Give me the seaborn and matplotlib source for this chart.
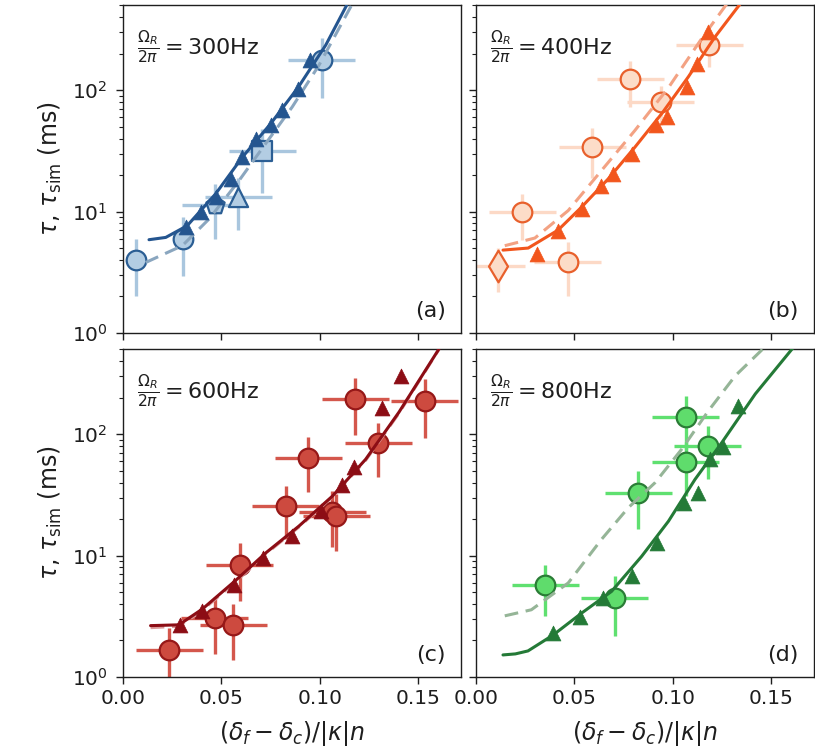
import numpy as np
import pandas as pd
import matplotlib
matplotlib.use("Agg")
import matplotlib.pyplot as plt
import seaborn as sns

sns.set_style("ticks")
plt.rcParams['font.family'] = ['DejaVu Sans']
plt.rcParams['mathtext.fontset'] = 'dejavusans'
for k in ['text.color', 'axes.labelcolor', 'xtick.color', 'ytick.color', 'axes.edgecolor']:
    plt.rcParams[k] = '#1e1e1e'

# ---------------- data ----------------
panel_labels = ["(a)", "(b)", "(c)", "(d)"]
freq_labels = ["300Hz", "400Hz", "600Hz", "800Hz"]

# panel (a) 300 Hz
a_exp_x = [0.0068, 0.0306, 0.0465, 0.0584, 0.0707, 0.1009]
a_exp_y = [4.0, 5.95, 11.4, 13.1, 31.3, 177]
a_exp_xerr = [0.0, 0.005, 0.0165, 0.017, 0.017, 0.017]
a_exp_yerr = [2.0, 3.0, 5.5, 6.0, 17, 90]
a_exp_marker = ['o', 'o', 'p', '^', 's', 'o']
a_sim_x = [0.0321, 0.0394, 0.0470, 0.0547, 0.0606, 0.0674, 0.0750, 0.0809, 0.0890, 0.0948]
a_sim_y = [7.4, 9.9, 13.1, 18.6, 28.1, 39.9, 51.4, 68.4, 103, 179]
a_fit_x = [0.0132, 0.0217, 0.0326, 0.0470, 0.0606, 0.0750, 0.0890, 0.1029, 0.1139]
a_fit_y = [5.87, 6.13, 7.66, 14.0, 28.1, 53.1, 106, 235, 514]
a_dash_x = [0.0115, 0.0301, 0.0437, 0.0589, 0.0724, 0.0859, 0.0995, 0.1164]
a_dash_y = [3.81, 5.24, 8.7, 18.0, 36.3, 72.8, 161, 514]

# panel (b) 400 Hz
b_exp_x = [0.0112, 0.0234, 0.0465, 0.0590, 0.0782, 0.0939, 0.1185]
b_exp_y = [3.58, 9.87, 3.81, 34.0, 123, 80, 235]
b_exp_xerr = [0.0137, 0.017, 0.017, 0.017, 0.017, 0.017, 0.017]
b_exp_yerr = [1.4, 4.0, 1.8, 15, 50, 28, 80]
b_exp_marker = ['d', 'o', 'o', 'o', 'o', 'o', 'o']
b_sim_x = [0.0312, 0.0417, 0.0536, 0.0637, 0.0697, 0.0790, 0.0912, 0.0968, 0.1070, 0.1121, 0.1177]
b_sim_y = [4.47, 6.97, 10.5, 16.4, 20.5, 30.0, 51.4, 60.1, 106, 166, 303]
b_fit_x = [0.0137, 0.0265, 0.0417, 0.0536, 0.0671, 0.0807, 0.0943, 0.1078, 0.1214, 0.1341]
b_fit_y = [4.82, 5.01, 7.05, 10.9, 18.6, 34.0, 64.2, 129, 276, 514]
b_dash_x = [0.0146, 0.0299, 0.0468, 0.0637, 0.0807, 0.0977, 0.1146, 0.1273]
b_dash_y = [5.24, 6.06, 10.2, 21.8, 46.7, 105, 267, 514]

# panel (c) 600 Hz
c_exp_x = [0.0234, 0.0467, 0.0560, 0.0592, 0.0826, 0.0941, 0.1063, 0.1083, 0.1178, 0.1296, 0.1533]
c_exp_y = [1.67, 3.06, 2.69, 8.43, 25.6, 64.2, 22.8, 21.4, 195, 84.3, 188]
c_exp_xerr = [0.017] * 11
c_exp_yerr = [0.85, 1.5, 1.3, 4.2, 12, 31, 11, 10.5, 96, 40, 95]
c_exp_marker = ['o'] * 11
c_sim_x = [0.0288, 0.0403, 0.0563, 0.0711, 0.0856, 0.1003, 0.1110, 0.1173, 0.1316, 0.1410]
c_sim_y = [2.69, 3.53, 5.68, 9.57, 14.6, 23.2, 38.1, 54.1, 166, 303]
c_fit_x = [0.0140, 0.0284, 0.0403, 0.0572, 0.0724, 0.0893, 0.1063, 0.1232, 0.1401, 0.1604]
c_fit_y = [2.65, 2.69, 3.63, 6.25, 10.5, 17.5, 30.9, 62.2, 152, 504]
c_dash_x = [0.0140, 0.0284, 0.0403, 0.0572, 0.0724, 0.0893, 0.1063, 0.1232, 0.1401, 0.1604]
c_dash_y = [2.55, 2.62, 3.55, 6.1, 10.3, 17.2, 30.5, 61, 149, 500]

# panel (d) 800 Hz
d_exp_x = [0.0352, 0.0705, 0.0824, 0.1065, 0.1065, 0.1177]
d_exp_y = [5.76, 4.47, 33.0, 140, 59.0, 80]
d_exp_xerr = [0.017] * 6
d_exp_yerr = [2.6, 2.3, 16.5, 66, 28, 37]
d_exp_marker = ['o'] * 6
d_sim_x = [0.0392, 0.0527, 0.0646, 0.0790, 0.0917, 0.1058, 0.1126, 0.1189, 0.1256, 0.1329]
d_sim_y = [2.30, 3.15, 4.47, 6.74, 12.7, 27.3, 33.0, 62.2, 79.1, 171]
d_fit_x = [0.0137, 0.0200, 0.0264, 0.0392, 0.0536, 0.0688, 0.0841, 0.0977, 0.1112, 0.1248, 0.1418, 0.1612]
d_fit_y = [1.52, 1.55, 1.64, 2.22, 3.36, 5.07, 9.87, 19.2, 42.5, 85.4, 215, 521]
d_dash_x = [0.0146, 0.0281, 0.0468, 0.0637, 0.0773, 0.0909, 0.1044, 0.1180, 0.1316, 0.1460]
d_dash_y = [3.19, 3.58, 5.95, 13.6, 24.8, 39.9, 75.2, 156, 303, 511]

panels = [
    dict(ex=a_exp_x, ey=a_exp_y, exe=a_exp_xerr, eye=a_exp_yerr, em=a_exp_marker,
         sx=a_sim_x, sy=a_sim_y, fx=a_fit_x, fy=a_fit_y, dx=a_dash_x, dy=a_dash_y),
    dict(ex=b_exp_x, ey=b_exp_y, exe=b_exp_xerr, eye=b_exp_yerr, em=b_exp_marker,
         sx=b_sim_x, sy=b_sim_y, fx=b_fit_x, fy=b_fit_y, dx=b_dash_x, dy=b_dash_y),
    dict(ex=c_exp_x, ey=c_exp_y, exe=c_exp_xerr, eye=c_exp_yerr, em=c_exp_marker,
         sx=c_sim_x, sy=c_sim_y, fx=c_fit_x, fy=c_fit_y, dx=c_dash_x, dy=c_dash_y),
    dict(ex=d_exp_x, ey=d_exp_y, exe=d_exp_xerr, eye=d_exp_yerr, em=d_exp_marker,
         sx=d_sim_x, sy=d_sim_y, fx=d_fit_x, fy=d_fit_y, dx=d_dash_x, dy=d_dash_y),
]

styles = [
    dict(dark='#24558f', fill='#b3cde3', edge='#2b5e94', err='#a9c6de', dash='#8aa6bf'),
    dict(dark='#f2561d', fill='#fcdcc8', edge='#e8602c', err='#fcd9c6', dash='#f3a283'),
    dict(dark='#8c0d15', fill='#cd4a3f', edge='#961818', err='#d4574c', dash='#dc9a9a'),
    dict(dark='#247a37', fill='#5fdc6c', edge='#2a7c36', err='#5fe070', dash='#95b597'),
]

# ---------------- layout ----------------
W, H = 815, 756
fig = plt.figure(figsize=(W / 100, H / 100), dpi=100)
axw, axh = 338 / W, 328 / H
lefts = [123 / W, 476 / W]
bottoms = [(H - 333) / H, (H - 677) / H]
axes = []
for r in range(2):
    for c in range(2):
        axes.append(fig.add_axes([lefts[c], bottoms[r], axw, axh]))

sizes = {'o': 200, 'p': 190, '^': 190, 's': 200, 'd': 260}
for i, (ax, p, st) in enumerate(zip(axes, panels, styles)):
    # error bars
    ax.errorbar(p['ex'], p['ey'], xerr=p['exe'], yerr=p['eye'], fmt='none',
                ecolor=st['err'], elinewidth=2.4, capsize=0, zorder=1)
    # experiment markers
    df = pd.DataFrame({'x': p['ex'], 'y': p['ey'], 'm': p['em']})
    for m in df['m'].unique():
        sub = df[df['m'] == m]
        sns.scatterplot(data=sub, x='x', y='y', marker=m, s=sizes[m],
                        color=st['fill'], edgecolor=st['edge'], linewidth=1.6,
                        ax=ax, zorder=2, legend=False)
    # dashed curve
    sns.lineplot(x=p['dx'], y=p['dy'], ax=ax, color=st['dash'], linestyle=(0, (4.5, 2.5)),
                 linewidth=2.2, sort=False, estimator=None, zorder=3)
    # solid curve
    sns.lineplot(x=p['fx'], y=p['fy'], ax=ax, color=st['dark'], linewidth=2.2,
                 sort=False, estimator=None, zorder=4)
    # simulation triangles
    sns.scatterplot(x=p['sx'], y=p['sy'], marker='^', s=115, color=st['dark'],
                    edgecolor=st['dark'], linewidth=0.5, ax=ax, zorder=5, legend=False)

    ax.set_yscale('log')
    ax.set_ylim(1, 504)
    ax.set_xlim(0, 0.1716)
    ax.set_xticks([0.0, 0.05, 0.10, 0.15])
    for s in ax.spines.values():
        s.set_visible(True)
        s.set_linewidth(1.0)
    ax.tick_params(axis='both', which='major', labelsize=14.5, length=5, width=1)
    ax.tick_params(axis='y', which='major', pad=6)
    ax.tick_params(axis='y', which='minor', length=3, width=0.8)
    ax.set_xlabel('')
    ax.set_ylabel('')
    if i in (0, 1):
        ax.tick_params(axis='x', labelbottom=False)
    else:
        ax.set_xticklabels(['0.00', '0.05', '0.10', '0.15'])
        ax.set_xlabel(r'$(\delta_f-\delta_c)/|\kappa|n$', fontsize=17, labelpad=8)
    if i in (1, 3):
        ax.tick_params(axis='y', which='both', labelleft=False)
    else:
        ax.set_ylabel(r'$\tau$, $\tau_{\rm sim}$ (ms)', fontsize=17, labelpad=6)

    ax.text(0.04, 0.87, r'$\frac{\Omega_R}{2\pi}=$' + freq_labels[i], transform=ax.transAxes,
            fontsize=16, ha='left', va='center')
    ax.text(0.955, 0.068, panel_labels[i], transform=ax.transAxes,
            fontsize=16, ha='right', va='center')

fig.savefig('out.png', dpi=100)
